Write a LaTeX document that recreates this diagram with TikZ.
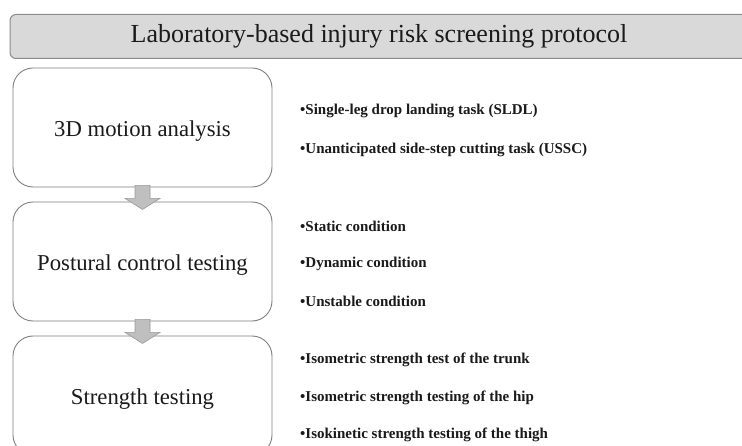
\documentclass[tikz,border=0pt]{standalone}
\usepackage{fontspec}
\setmainfont{Liberation Serif}
\usetikzlibrary{calc}
\definecolor{titlefill}{HTML}{D9D9D9}
\definecolor{titleline}{HTML}{8C8C8C}
\definecolor{boxline}{HTML}{7F7F7F}
\definecolor{arrowfill}{HTML}{BFBFBF}
\definecolor{arrowline}{HTML}{9A9A9A}
\definecolor{txt}{HTML}{1A1A1A}
\tikzset{
  titlebox/.style={draw=titleline, fill=titlefill, line width=1pt, rounded corners=6pt,
    minimum width=738pt, minimum height=44pt, inner sep=0pt,
    font=\fontsize{26}{30}\selectfont, text=txt},
  stagebox/.style={draw=boxline, fill=white, line width=0.9pt, rounded corners=20pt,
    minimum width=259pt, minimum height=119pt, inner sep=0pt,
    text height=19pt, text depth=0pt,
    font=\fontsize{22.7}{26}\selectfont, text=txt},
  bullet/.style={anchor=west, inner sep=0pt, font=\bfseries\fontsize{15}{17}\selectfont, text=txt},
  blockarrow/.style={draw=arrowline, fill=arrowfill, line width=0.6pt, line join=miter}
}
\begin{document}
\begin{tikzpicture}[x=1pt,y=-1pt]
\useasboundingbox (0,0) rectangle (742,446);
\clip (0,0) rectangle (742,446);
\fill[white] (0,0) rectangle (742,446);
\node[titlebox] (title) at (379,36.5) {Laboratory-based injury risk screening protocol};
\node[stagebox] (b1) at (142.5,127.5) {3D motion analysis};
\node[stagebox] (b2) at (142.5,261.5) {Postural control testing};
\node[stagebox] (b3) at (142.5,395.5) {Strength testing};
% block arrows
\foreach \a in {b1,b2}{
  \draw[blockarrow] ($(\a.south)+(-7.5,-2)$) -- ($(\a.south)+(7.5,-2)$) -- ($(\a.south)+(7.5,11)$)
    -- ($(\a.south)+(17.5,11)$) -- ($(\a.south)+(0,22)$) -- ($(\a.south)+(-17.5,11)$)
    -- ($(\a.south)+(-7.5,11)$) -- cycle;
}
\node[bullet] (s1) at (300,111) {•Single-leg drop landing task (SLDL)};
\node[bullet] (s2) at (300,150) {•Unanticipated side-step cutting task (USSC)};
\node[bullet] (p1) at (300,226) {•Static condition};
\node[bullet] (p2) at (300,264) {•Dynamic condition};
\node[bullet] (p3) at (300,301) {•Unstable condition};
\node[bullet] (t1) at (300,360) {•Isometric strength test of the trunk};
\node[bullet] (t2) at (300,398) {•Isometric strength testing of the hip};
\node[bullet] (t3) at (300,435) {•Isokinetic strength testing of the thigh};
\end{tikzpicture}
\end{document}
